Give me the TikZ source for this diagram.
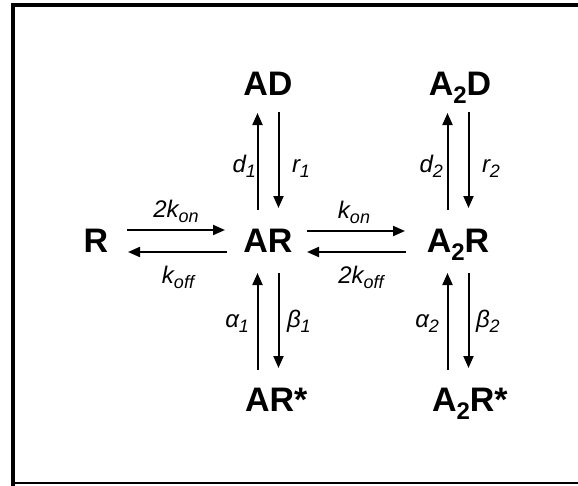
\documentclass[tikz,border=0pt]{standalone}
\usepackage{fontspec}
\setmainfont{Liberation Sans}
\usetikzlibrary{arrows.meta,calc}
\newcommand\lsub[1]{\raisebox{-8pt}{\fontsize{24}{24}\selectfont #1}}
\newcommand\ksub[1]{\raisebox{-5pt}{\fontsize{18}{18}\selectfont #1}}
\tikzset{
  species/.style={font=\fontsize{34}{40}\selectfont\bfseries, inner sep=0pt, outer sep=0pt, anchor=base},
  rate/.style={font=\fontsize{24}{28}\selectfont\itshape, inner sep=0pt, outer sep=0pt},
  rx/.style={line width=2pt, -{Triangle[length=12pt,width=10pt]}},
}
\begin{document}
\begin{tikzpicture}[x=1pt,y=-1pt]
\useasboundingbox (0,0) rectangle (578,485);
\clip (0,0) rectangle (578,485);
% frame
\draw[line width=4pt] (12.5,490) -- (12.5,5.3) -- (590,5.3);
\draw[line width=2pt] (12.5,483) -- (590,483);
% species
\node[species] (R)   at (96,252)  {R};
\node[species] (AR)  at (268,252) {AR};
\node[species] (AD)  at (268,95)  {AD};
\node[species] (A2D) at (460,95)  {A\lsub{2}D};
\node[species] (A2R) at (458,252) {A\lsub{2}R};
\node[species,anchor=base west] (ARs)  at (245,411) {AR*};
\node[species,anchor=base west] (A2Rs) at (432,411) {A\lsub{2}R*};
% rates
\node[rate,anchor=base] (kon2)  at (176,217) {2k\ksub{on}};
\node[rate,anchor=base] (koff)  at (178,283) {k\ksub{off}};
\node[rate,anchor=base] (kon)   at (354,218) {k\ksub{on}};
\node[rate,anchor=base] (koff2) at (361,283) {2k\ksub{off}};
\node[rate,anchor=base east] (d1) at (256,172) {d\ksub{1}};
\node[rate,anchor=base west] (r1) at (292,172) {r\ksub{1}};
\node[rate,anchor=base east] (d2) at (443,172) {d\ksub{2}};
\node[rate,anchor=base west] (r2) at (482,172) {r\ksub{2}};
\node[rate,anchor=base east] (a1) at (249,327) {α\ksub{1}};
\node[rate,anchor=base west] (b1) at (287,327) {β\ksub{1}};
\node[rate,anchor=base east] (a2) at (439,327) {α\ksub{2}};
\node[rate,anchor=base west] (b2) at (476,327) {β\ksub{2}};
% horizontal arrows
\draw[rx] ($(R.base)+(31,-22)$) -- ($(AR.base -| R.base)+(129,-22)$);
\draw[rx] ($(AR.base)+(-41,0)$) -- ($(R.base -| AR.base)+(-140,0)$);
\draw[rx] ($(AR.base)+(39,-21)$) -- ($(A2R.base -| AR.base)+(137,-21)$);
\draw[rx] ($(A2R.base)+(-52,0)$) -- ($(AR.base -| A2R.base)+(-151,0)$);
% vertical arrows, column 1
\draw[rx] ($(AR.base)+(-10.5,-42)$) -- ($(AD.base -| AR.base)+(-10.5,18)$);
\draw[rx] ($(AD.base -| AR.base)+(10.5,17)$) -- ($(AR.base)+(10.5,-44)$);
\draw[rx] ($(ARs.base -| AR.base)+(-10.5,-41)$) -- ($(AR.base)+(-10.5,21)$);
\draw[rx] ($(AR.base)+(10.5,21)$) -- ($(ARs.base -| AR.base)+(10.5,-43)$);
% vertical arrows, column 2
\draw[rx] ($(A2R.base)+(-10.5,-42)$) -- ($(A2D.base -| A2R.base)+(-10.5,18)$);
\draw[rx] ($(A2D.base -| A2R.base)+(10.5,17)$) -- ($(A2R.base)+(10.5,-44)$);
\draw[rx] ($(A2Rs.base -| A2R.base)+(-10.5,-41)$) -- ($(A2R.base)+(-10.5,21)$);
\draw[rx] ($(A2R.base)+(10.5,21)$) -- ($(A2Rs.base -| A2R.base)+(10.5,-43)$);
\end{tikzpicture}
\end{document}
